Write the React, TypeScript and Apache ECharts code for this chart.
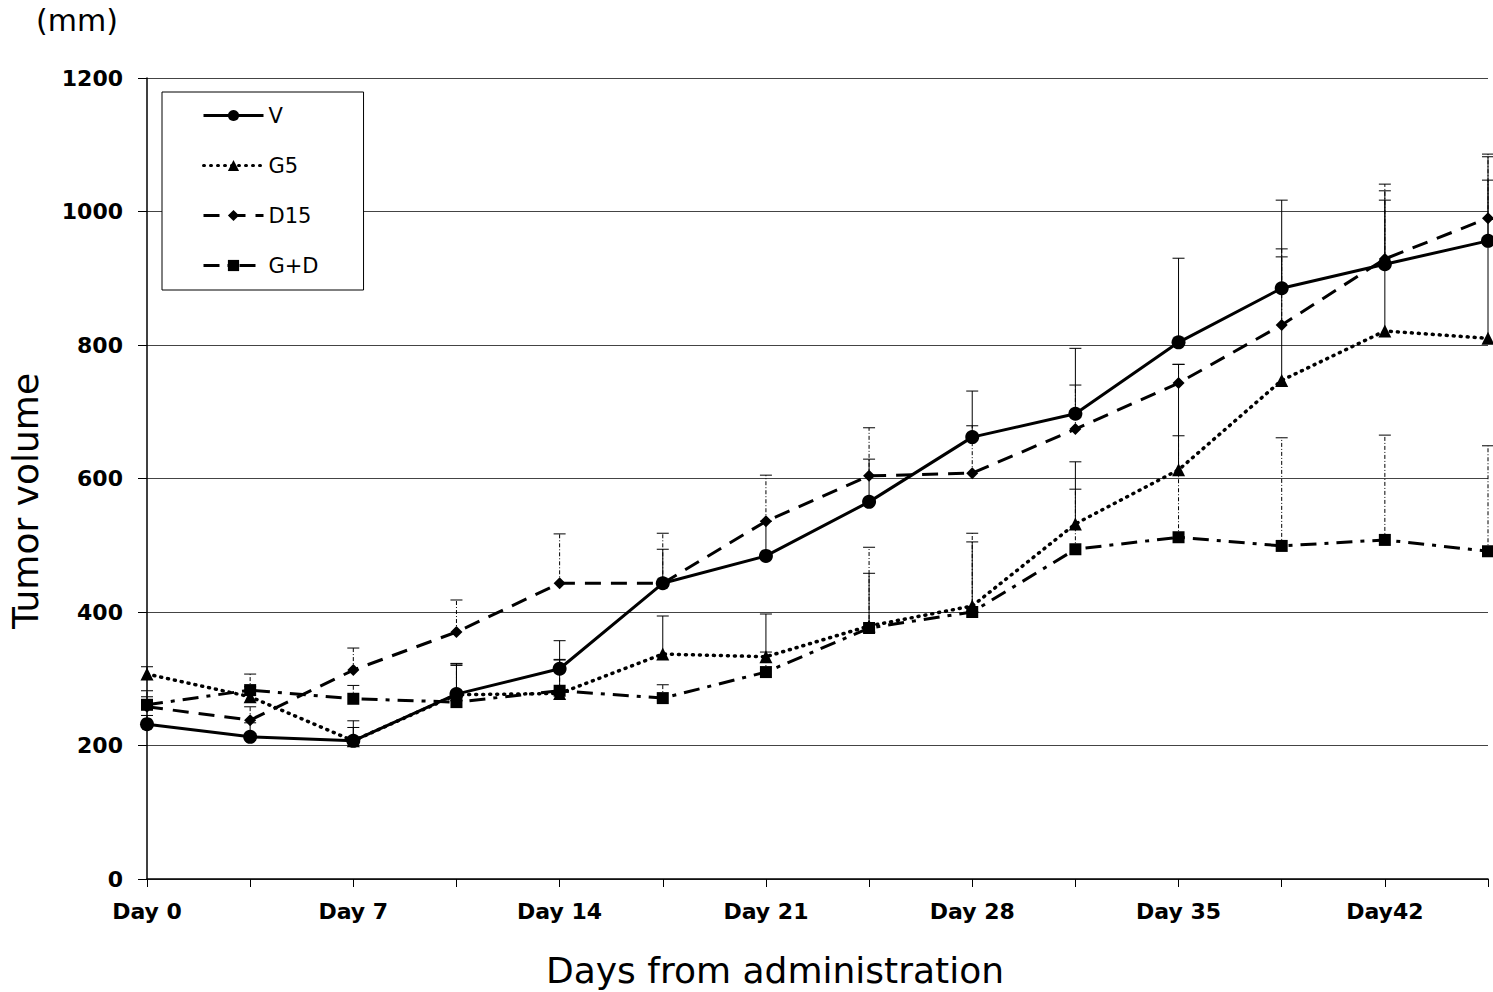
import React, { useEffect, useRef } from 'react';
import * as echarts from 'echarts';

const days = ['0', '3.5', '7', '10.5', '14', '17.5', '21', '24.5', '28', '31.5', '35', '38.5', '42', '45.5'];
const dayLabels = ['Day 0', '', 'Day 7', '', 'Day 14', '', 'Day 21', '', 'Day 28', '', 'Day 35', '', 'Day42', ''];
const yTicks = [0, 200, 400, 600, 800, 1000, 1200];

const vMean = [232, 213, 207, 277, 315, 443, 484, 565, 662, 697, 804, 885, 921, 956];
const vErr = [13, 21, 30, 45, 42, 51, 52, 64, 69, 98, 126, 132, 110, 126];
const g5Mean = [307, 273, 207, 276, 278, 337, 333, 379, 409, 532, 613, 747, 821, 810];
const g5Err = [11, 15, 20, 47, 50, 57, 64, 79, 96, 93, 158, 185, 196, 237];
const d15Mean = [258, 238, 313, 370, 443, 443, 536, 604, 608, 674, 743, 830, 929, 990];
const d15Err = [15, 20, 33, 48, 74, 75, 69, 72, 71, 66, 28, 114, 112, 96];
const gdMean = [261, 283, 270, 265, 282, 271, 310, 376, 400, 494, 512, 499, 508, 491];
const gdErr = [21, 24, 20, 55, 47, 20, 30, 121, 118, 90, 152, 162, 157, 158];

const seriesNames = ['V', 'G5', 'D15', 'G+D'];

function errSeries(name: string, mean: number[], err: number[], dash: number[] | null) {
  return {
    type: 'custom',
    name,
    z: 2,
    silent: true,
    data: mean.map((m, i) => [i, m, m + err[i]]),
    encode: { x: 0, y: [1, 2] },
    renderItem: (_params: any, api: any) => {
      const b = api.coord([api.value(0), api.value(1)]);
      const t = api.coord([api.value(0), api.value(2)]);
      const style: any = { stroke: '#000', lineWidth: 1, fill: null };
      if (dash) style.lineDash = dash;
      return {
        type: 'group',
        children: [
          { type: 'line', shape: { x1: b[0], y1: b[1], x2: t[0], y2: t[1] }, style },
          { type: 'line', shape: { x1: t[0] - 6, y1: t[1], x2: t[0] + 6, y2: t[1] }, style: { stroke: '#000', lineWidth: 1 } },
        ],
      };
    },
  };
}

function lineSeries(name: string, data: number[], symbol: string, size: number, type: any, cap: string = 'butt', width = 3) {
  return {
    type: 'line',
    name,
    data,
    z: 3,
    symbol,
    symbolSize: size,
    showSymbol: true,
    itemStyle: { color: '#000', borderWidth: 0 },
    lineStyle: { color: '#000', width, type, cap },
  };
}

export default function App() {
  const ref = useRef<HTMLDivElement>(null);
  useEffect(() => {
    if (!ref.current) return;
    const chart = echarts.init(ref.current, null, { renderer: 'svg' });
    chart.setOption({
      animation: false,
      backgroundColor: '#fff',
      grid: { left: 147, right: 5, top: 78, bottom: 113, containLabel: false },
      legend: {
        data: seriesNames,
        orient: 'vertical',
        left: 162,
        top: 92,
        padding: [13, 45, 14, 40],
        itemGap: 29,
        itemWidth: 60,
        itemHeight: 14,
        borderColor: '#000',
        borderWidth: 1,
        backgroundColor: '#fff',
        lineStyle: { width: 3 },
        textStyle: { fontFamily: 'DejaVu Sans', fontSize: 21, color: '#000' },
      },
      xAxis: {
        type: 'category',
        data: days,
        boundaryGap: false,
        axisLine: { lineStyle: { color: '#000', width: 1.5 } },
        axisTick: { show: true, interval: 0, length: 8, lineStyle: { color: '#000' } },
        axisLabel: {
          interval: 0,
          formatter: (_v: string, i: number) => dayLabels[i],
          fontFamily: 'DejaVu Sans',
          fontWeight: 'bold',
          fontSize: 22,
          color: '#000',
          margin: 21,
        },
        splitLine: { show: false },
      },
      yAxis: {
        type: 'value',
        min: yTicks[0],
        max: yTicks[yTicks.length - 1],
        interval: yTicks[1] - yTicks[0],
        axisLine: { show: true, lineStyle: { color: '#000', width: 1.5 } },
        axisTick: { show: true, length: 9, lineStyle: { color: '#000' } },
        axisLabel: {
          formatter: (v: number) => String(v),
          fontFamily: 'DejaVu Sans', fontWeight: 'bold', fontSize: 22, color: '#000', margin: 24,
        },
        splitLine: { show: true, lineStyle: { color: '#444', width: 1 } },
      },
      graphic: [
        { type: 'text', left: 36, top: 5, style: { text: '(mm)', fontFamily: 'DejaVu Sans', fontSize: 30, fill: '#000' } },
        {
          type: 'text', x: 25, y: 501, rotation: Math.PI / 2,
          style: { text: 'Tumor volume', fontFamily: 'DejaVu Sans', fontSize: 36, fill: '#000', align: 'center', verticalAlign: 'middle' },
        },
        {
          type: 'text', x: 775, y: 970,
          style: { text: 'Days from administration', fontFamily: 'DejaVu Sans', fontSize: 36, fill: '#000', align: 'center', verticalAlign: 'middle' },
        },
      ],
      series: [
        errSeries('V err', vMean, vErr, null),
        errSeries('G5 err', g5Mean, g5Err, null),
        errSeries('D15 err', d15Mean, d15Err, [4, 2, 1, 2]),
        errSeries('G+D err', gdMean, gdErr, [4, 2, 1, 2]),
        lineSeries('V', vMean, 'circle', 14, 'solid'),
        lineSeries('G5', g5Mean, 'triangle', 13, [1, 6], 'round', 3.5),
        lineSeries('D15', d15Mean, 'diamond', 12, [16, 10]),
        lineSeries('G+D', gdMean, 'rect', 12, [16, 8, 4, 8]),
      ],
    });
    return () => chart.dispose();
  }, []);
  return <div ref={ref} style={{ position: 'fixed', left: 0, top: 0, width: 1493, height: 992 }} />;
}
